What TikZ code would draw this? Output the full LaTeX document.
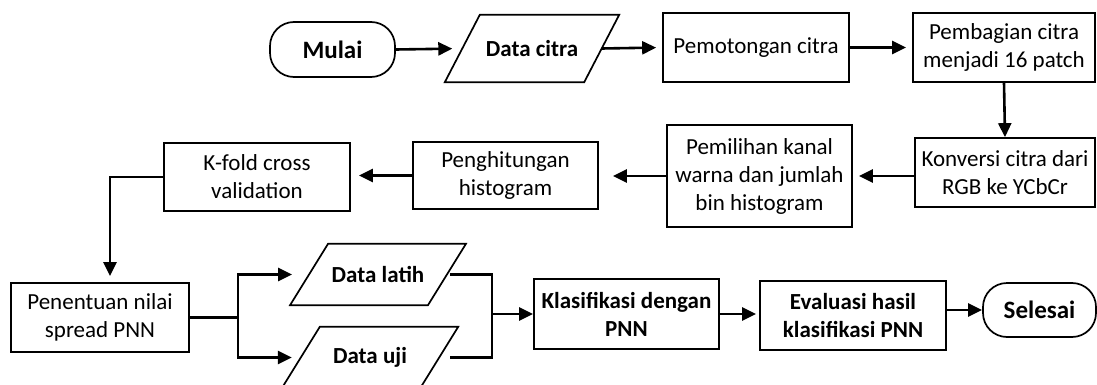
\documentclass[tikz,border=0pt]{standalone}
\usepackage{fontspec}
\setmainfont{Carlito}
\usetikzlibrary{arrows.meta}
\begin{document}
\begin{tikzpicture}[x=1pt,y=-1pt,
  txt/.style={font=\fontsize{23}{28}\selectfont, align=center, inner sep=0pt},
  proc/.style={txt, draw, line width=1.7pt, minimum height=69pt},
  term/.style={txt, draw, line width=1.7pt, rounded corners=24pt, minimum height=55pt, font=\fontsize{25}{28}\selectfont\bfseries},
  io/.style={txt, font=\fontsize{23}{28}\selectfont\bfseries},
  ioline/.style={line width=1.7pt, line join=miter},
  flow/.style={line width=2.6pt, -{Triangle[length=14pt,width=13pt]}},
  plain/.style={line width=2.6pt}
]
\useasboundingbox (0,0) rectangle (1097,385);

% top row
\node[term, minimum width=125pt] (mul) at (332.5,49.5) {Mulai};
\node[io, minimum width=139pt, minimum height=67pt] (dc) at (532,48.5) {Data citra};
\draw[ioline] ([xshift=17.5pt]dc.north west) -- ([xshift=17.5pt]dc.north east) -- ([xshift=-17.5pt]dc.south east) -- ([xshift=-17.5pt]dc.south west) -- cycle;
\node[proc, minimum width=186pt] (pem) at (756,47.5) {Pemotongan citra};
\node[proc, minimum width=182pt] (pmb) at (1004,47.5) {Pembagian citra\\menjadi 16 patch};

% middle row
\node[proc, minimum width=180pt] (knv) at (1005,172.5) {Konversi citra dari\\RGB ke YCbCr};
\node[proc, minimum width=185pt, minimum height=102pt] (pil) at (759.5,176) {Pemilihan kanal\\warna dan jumlah\\bin histogram};
\node[proc, minimum width=185pt, minimum height=67pt] (hit) at (505.5,175.5) {Penghitungan\\histogram};
\node[proc, minimum width=186pt, minimum height=68pt] (kf) at (257,177) {K-fold cross\\validation};

% bottom row
\node[proc, minimum width=178pt] (pen) at (100,317.5) {Penentuan nilai\\spread PNN};
\node[io, minimum width=137.5pt, minimum height=61pt] (dl) at (378,274.5) {Data latih};
\draw[ioline] ([xshift=19pt]dl.north west) -- ([xshift=19pt]dl.north east) -- ([xshift=-19pt]dl.south east) -- ([xshift=-19pt]dl.south west) -- cycle;
\node[io, minimum width=138pt, minimum height=61pt] (du) at (370,357.5) {Data uji};
\draw[ioline] ([xshift=19pt]du.north west) -- ([xshift=19pt]du.north east) -- ([xshift=-19pt]du.south east) -- ([xshift=-19pt]du.south west) -- cycle;
\node[proc, minimum width=185pt, minimum height=70pt, font=\fontsize{23}{28}\selectfont\bfseries] (kl) at (626.5,314) {Klasifikasi dengan\\PNN};
\node[proc, minimum width=186pt, font=\fontsize{23}{28}\selectfont\bfseries] (ev) at (853,315.5) {Evaluasi hasil\\klasifikasi PNN};
\node[term, minimum width=113pt, minimum height=54pt] (sel) at (1039.5,310) {Selesai};

% connectors
\draw[flow, shorten >=10pt] (mul.east) -- (dc.west);
\draw[flow, shorten >=6pt] (dc.east) -- (pem.west);
\draw[flow, shorten >=6pt] (pem.east) -- (pmb.west);
\draw[flow] (pmb.south) -- (knv.north);
\draw[flow, shorten >=6pt] (knv.west |- pil.east) -- (pil.east);
\draw[flow, shorten >=14pt] (pil.west) -- (pil.west -| hit.east);
\draw[flow, shorten >=8pt] (hit.west) -- (hit.west -| kf.east);
\draw[flow, shorten >=6pt] (kf.west) -| ([xshift=10pt]pen.north);

\coordinate (br) at (238,317.5);
\draw[plain] (pen.east) -- (br);
\draw[flow, shorten >=17pt] (br) |- (dl.west);
\draw[flow, shorten >=9pt] (br) |- (du.west);

\coordinate (mg) at (492,314);
\draw[plain] ([xshift=3pt]dl.east) -| (mg);
\draw[plain, shorten <=11pt] (du.east) -| (mg);
\draw[flow] (mg) -- (kl.west);
\draw[flow, shorten >=3pt] (kl.east) -- (kl.east -| ev.west);
\draw[flow] (ev.east |- sel.west) -- (sel.west);
\end{tikzpicture}
\end{document}
